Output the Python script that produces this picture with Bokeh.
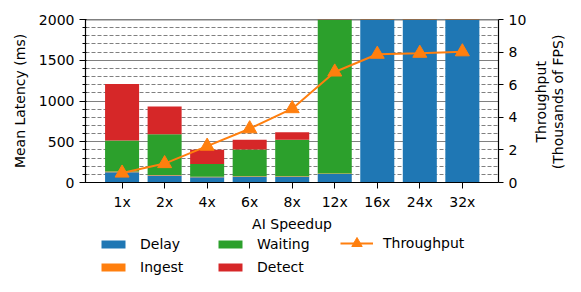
import math
from bokeh.plotting import figure
from bokeh.layouts import column
from bokeh.models import (Range1d, LinearAxis, FixedTicker, SingleIntervalTicker,
                          Legend, LegendItem, Span, ColumnDataSource)
from bokeh.embed import file_html
from bokeh.resources import INLINE

categories = ["1x", "2x", "4x", "6x", "8x", "12x", "16x", "24x", "32x"]
delay = [125, 85, 65, 70, 70, 105, 4800, 4900, 5000]
ingest = [10, 8, 6, 6, 6, 6, 5, 5, 5]
waiting = [380, 500, 155, 330, 450, 2600, 0, 0, 0]
detect = [695, 340, 175, 120, 90, 60, 0, 0, 0]
throughput = [0.58, 1.16, 2.23, 3.30, 4.53, 6.78, 7.87, 7.93, 8.02]

stages = ["Delay", "Ingest", "Waiting", "Detect"]
colors = ["#1f77b4", "#ff7f0e", "#2ca02c", "#d62728"]
tp_label = "Throughput"

FONT = "DejaVu Sans"
FS = "14px"
NB = "\u00a0"

xs = list(range(len(categories)))
src = ColumnDataSource(dict(x=xs, Delay=delay, Ingest=ingest, Waiting=waiting,
                            Detect=detect, tp=throughput))

p = figure(frame_width=413, frame_height=163, output_backend="svg", toolbar_location=None,
           x_range=Range1d(-0.86, 8.85), y_range=Range1d(0, 2000),
           min_border_left=85, min_border_right=72, min_border_top=19,
           min_border_bottom=48)
p.outline_line_color = None

p.extra_y_ranges = {"tp": Range1d(0, 10)}

bars = p.vbar_stack(stages, x="x", width=0.8, source=src, color=colors,
                    line_color=None)
line = p.line("x", "tp", source=src, y_range_name="tp", line_color="#ff7f0e",
              line_width=2)
pts = p.scatter("x", "tp", source=src, y_range_name="tp", marker="triangle",
                size=14, fill_color="#ff7f0e", line_color="#ff7f0e")

p.add_layout(Span(location=2000, dimension="width", line_color="black",
                  line_width=1.5, level="underlay"))

ya = p.yaxis[0]
ya.ticker = SingleIntervalTicker(interval=500, num_minor_ticks=5)
ya.axis_label = "Mean Latency (ms)"
xa = p.xaxis[0]
xa.ticker = FixedTicker(ticks=xs)
xa.major_label_overrides = {i: c for i, c in enumerate(categories)}
xa.axis_label = "AI Speedup"
# right axis label reads bottom-to-top; anchored at the axis start, lines centred with NBSP padding
ra = LinearAxis(y_range_name="tp", ticker=SingleIntervalTicker(interval=2, num_minor_ticks=0),
                axis_label=NB * 9 + "Throughput\n" + NB * 3 + "(Thousands of FPS)")
p.add_layout(ra, "right")
try:
    ra.axis_label_orientation = math.pi / 2
    ra.axis_label_align = "start"
except Exception:
    pass

for ax in [xa, ya, ra]:
    ax.axis_line_color = "black"
    ax.axis_line_width = 1.2
    ax.major_tick_line_color = "black"
    ax.major_tick_out = 6
    ax.major_tick_in = 0
    ax.minor_tick_out = 3
    ax.minor_tick_in = 1
    ax.major_label_text_font = FONT
    ax.major_label_text_font_size = FS
    ax.major_label_text_color = "black"
    ax.axis_label_text_font = FONT
    ax.axis_label_text_font_size = FS
    ax.axis_label_text_font_style = "normal"
    ax.axis_label_text_color = "black"
    ax.major_label_standoff = 5
    ax.axis_label_standoff = 8
xa.minor_tick_line_color = None
xa.axis_label_standoff = 3
ra.minor_tick_line_color = None
ra.major_tick_out = 5
ra.axis_label_standoff = 20
ra.axis_label_text_line_height = 1.05

p.xgrid.grid_line_color = None
p.ygrid.ticker = ya.ticker
p.ygrid.grid_line_color = "#808080"
p.ygrid.grid_line_width = 1
p.ygrid.minor_grid_line_color = "#808080"
p.ygrid.minor_grid_line_dash = "4 2"
p.ygrid.minor_grid_line_width = 1

# legend figure: keys drawn by Bokeh's legend from renderers holding one NaN point
nan = float("nan")
lf = figure(width=p.frame_width + 85 + 72, height=46, output_backend="svg",
            toolbar_location=None, x_axis_type=None, y_axis_type=None,
            x_range=Range1d(0, 1), y_range=Range1d(0, 1),
            min_border=0, min_border_left=0, min_border_right=0,
            min_border_top=0, min_border_bottom=0)
lf.outline_line_color = None
lf.grid.grid_line_color = None
dummy_bars = [lf.vbar(x=[nan], top=[nan], width=0.8, color=c, line_color=None) for c in colors]
dummy_line = lf.line(x=[nan], y=[nan], line_color="#ff7f0e", line_width=2)
dummy_pts = lf.scatter(x=[nan], y=[nan], marker="triangle", fill_color="#ff7f0e",
                       line_color="#ff7f0e")

def mk_legend(items, vx, vy, gw, gh, lh, spacing, standoff):
    lg = Legend(items=items, location=(vx, vy), orientation="vertical",
                glyph_width=gw, glyph_height=gh, label_height=lh, spacing=spacing,
                padding=0, margin=0, border_line_color=None,
                background_fill_alpha=0, label_standoff=standoff,
                label_text_font=FONT, label_text_font_size=FS,
                label_text_color="black")
    lf.add_layout(lg, "center")
    return lg

mk_legend([LegendItem(label=stages[0], renderers=[dummy_bars[0]]),
           LegendItem(label=stages[1], renderers=[dummy_bars[1]])], 13, 5, 30, 10, 14, 7, 12)
mk_legend([LegendItem(label=stages[2], renderers=[dummy_bars[2]]),
           LegendItem(label=stages[3], renderers=[dummy_bars[3]])], 130, 5, 30, 10, 14, 7, 12)
mk_legend([LegendItem(label=tp_label, renderers=[dummy_line, dummy_pts])], 255, 24, 33, 26, 26, 0, 10)

open("out.html", "w").write(file_html(column(p, lf, spacing=0), INLINE))
